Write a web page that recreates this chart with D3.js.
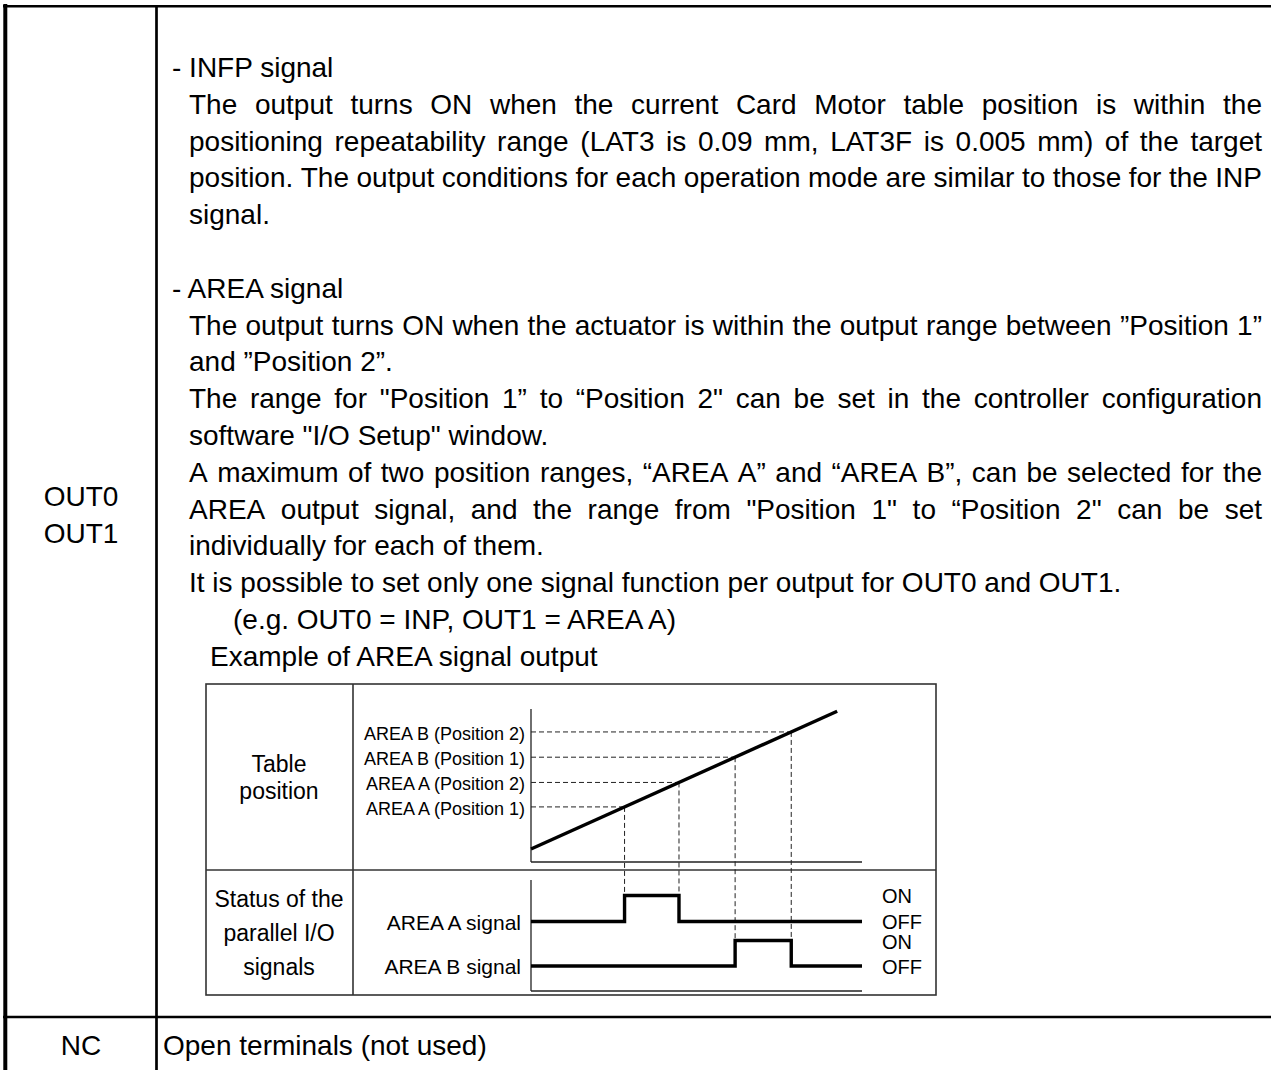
<!DOCTYPE html>
<html><head><meta charset="utf-8">
<script src="https://cdn.jsdelivr.net/npm/d3@7"></script>
<style>body{margin:0;background:#fff} svg{display:block}</style>
</head><body>
<svg id="c" width="1271" height="1070"></svg>
<script>
// ---------- data ----------
const rowLabelsTop = ["OUT0", "OUT1"];
const rowLabelBottom = "NC";
const ncText = "Open terminals (not used)";
const infpLines = [
  {text: "- INFP signal", indent: 0, justify: false},
  {text: "The output turns ON when the current Card Motor table position is within the", indent: 1, justify: true},
  {text: "positioning repeatability range (LAT3 is 0.09 mm, LAT3F is 0.005 mm) of the target", indent: 1, justify: true},
  {text: "position. The output conditions for each operation mode are similar to those for the INP", indent: 1, justify: true},
  {text: "signal.", indent: 1, justify: false}
];
const areaLines = [
  {text: "- AREA signal", indent: 0, justify: false},
  {text: "The output turns ON when the actuator is within the output range between \u201DPosition 1\u201D", indent: 1, justify: true},
  {text: "and \u201DPosition 2\u201D.", indent: 1, justify: false},
  {text: "The range for \"Position 1\u201D to \u201CPosition 2\" can be set in the controller configuration", indent: 1, justify: true},
  {text: "software \"I/O Setup\" window.", indent: 1, justify: false},
  {text: "A maximum of two position ranges, \u201CAREA A\u201D and \u201CAREA B\u201D, can be selected for the", indent: 1, justify: true},
  {text: "AREA output signal, and the range from \"Position 1\" to \u201CPosition 2\" can be set", indent: 1, justify: true},
  {text: "individually for each of them.", indent: 1, justify: false},
  {text: "It is possible to set only one signal function per output for OUT0 and OUT1.", indent: 1, justify: false},
  {text: "(e.g. OUT0 = INP, OUT1 = AREA A)", indent: 3, justify: false},
  {text: "Example of AREA signal output", indent: 2, justify: false}
];
// diagram data
const rowHeaderTop = ["Table", "position"];
const rowHeaderBottom = ["Status of the", "parallel I/O", "signals"];
const levelLabels = ["AREA A (Position 1)", "AREA A (Position 2)", "AREA B (Position 1)", "AREA B (Position 2)"];
const levelValues = [36, 52, 68.5, 85];
const trajectoryTime = [0, 9.25];
const trajectoryPos = [8.5, 98.5];
const signalNames = ["AREA A signal", "AREA B signal"];
const signalLevelPairs = [[0, 1], [2, 3]];
const stateLabels = ["ON", "OFF"];
const timeDomain = [0, 10];
const posDomain = [0, 100];

// ---------- layout ----------
const FONT = "'Liberation Sans', Arial, sans-serif";
const svg = d3.select("#c");
svg.append("rect").attr("width", 1271).attr("height", 1070).attr("fill", "#fff");

const bodySize = 28, lineH = 36.8;
const rightEdge = 1262;
const indentX = [172, 189, 210, 233];

// outer table
const tbl = svg.append("g").attr("stroke", "#000").attr("fill", "none");
tbl.append("line").attr("x1", 5.3).attr("x2", 5.3).attr("y1", 4).attr("y2", 1070).attr("stroke-width", 4);
tbl.append("line").attr("x1", 156.5).attr("x2", 156.5).attr("y1", 5).attr("y2", 1070).attr("stroke-width", 2.7);
tbl.append("line").attr("x1", 3).attr("x2", 1271).attr("y1", 6.2).attr("y2", 6.2).attr("stroke-width", 2.4);
tbl.append("line").attr("x1", 3).attr("x2", 1271).attr("y1", 1017).attr("y2", 1017).attr("stroke-width", 2.4);

const txt = svg.append("g").attr("font-family", FONT).attr("font-size", bodySize).attr("fill", "#000");

// measuring helper
const meas = svg.append("text").attr("font-family", FONT).attr("font-size", bodySize).attr("visibility", "hidden");
function measure(s) { meas.text(s); return meas.node().getComputedTextLength(); }

function drawLine(line, y) {
  const x0 = indentX[line.indent];
  const t = txt.append("text").attr("y", y).attr("x", x0);
  if (!line.justify) { t.text(line.text); return; }
  const words = line.text.split(" ");
  const widths = words.map(measure);
  const gap = (rightEdge - x0 - d3.sum(widths)) / (words.length - 1);
  let x = x0;
  words.forEach((w, i) => { t.append("tspan").attr("x", x).text(w); x += widths[i] + gap; });
}

const infpBase = 77;
infpLines.forEach((l, i) => drawLine(l, infpBase + i * lineH));
const areaBase = infpBase + 6 * lineH;
areaLines.forEach((l, i) => drawLine(l, areaBase + i * lineH));

rowLabelsTop.forEach((s, i) => txt.append("text").attr("x", 81).attr("y", 506 + i * lineH).attr("text-anchor", "middle").text(s));
txt.append("text").attr("x", 81).attr("y", 1055).attr("text-anchor", "middle").text(rowLabelBottom);
txt.append("text").attr("x", 163).attr("y", 1055).text(ncText);

// ---------- inner diagram ----------
const box = {x0: 206, x1: 936, y0: 684, y1: 995, xc: 353, yc: 870};
const dg = svg.append("g");
const bl = dg.append("g").attr("stroke", "#333").attr("stroke-width", 1.6).attr("fill", "none");
bl.append("rect").attr("x", box.x0).attr("y", box.y0).attr("width", box.x1 - box.x0).attr("height", box.y1 - box.y0);
bl.append("line").attr("x1", box.xc).attr("x2", box.xc).attr("y1", box.y0).attr("y2", box.y1);
bl.append("line").attr("x1", box.x0).attr("x2", box.x1).attr("y1", box.yc).attr("y2", box.yc);

const xT = d3.scaleLinear().domain(timeDomain).range([531, 862]);
const yP = d3.scaleLinear().domain(posDomain).range([862, 709]);
const ySig = [
  d3.scaleLinear().domain([0, 1]).range([921.5, 895.5]),
  d3.scaleLinear().domain([0, 1]).range([966, 940.5])
];

// axes (plain lines, no ticks)
const ax = dg.append("g").attr("stroke", "#222").attr("stroke-width", 1.3);
ax.append("line").attr("x1", xT(0)).attr("x2", xT(0)).attr("y1", yP(posDomain[1])).attr("y2", yP(0));
ax.append("line").attr("x1", xT(0)).attr("x2", xT(timeDomain[1])).attr("y1", yP(0)).attr("y2", yP(0));
ax.append("line").attr("x1", xT(0)).attr("x2", xT(0)).attr("y1", 880).attr("y2", 991);
ax.append("line").attr("x1", xT(0)).attr("x2", xT(timeDomain[1])).attr("y1", 991).attr("y2", 991);

const crossT = levelValues.map(v => trajectoryTime[0] + (v - trajectoryPos[0]) / (trajectoryPos[1] - trajectoryPos[0]) * (trajectoryTime[1] - trajectoryTime[0]));

// dashed guides
const dash = dg.append("g").attr("stroke", "#222").attr("stroke-width", 1).attr("stroke-dasharray", "5,3");
levelValues.forEach((v, i) => {
  dash.append("line").attr("x1", xT(0)).attr("x2", xT(crossT[i])).attr("y1", yP(v)).attr("y2", yP(v));
  const s = signalLevelPairs.findIndex(p => p.includes(i));
  dash.append("line").attr("x1", xT(crossT[i])).attr("x2", xT(crossT[i])).attr("y1", yP(v)).attr("y2", ySig[s](1));
});

// trajectory
const lineGen = d3.line().x(d => xT(d[0])).y(d => yP(d[1]));
dg.append("path").attr("d", lineGen(d3.zip(trajectoryTime, trajectoryPos)))
  .attr("fill", "none").attr("stroke", "#000").attr("stroke-width", 3.4);

// signals
signalLevelPairs.forEach((p, s) => {
  const pts = [[timeDomain[0], 0], [crossT[p[0]], 1], [crossT[p[1]], 0], [timeDomain[1], 0]];
  const g = d3.line().x(d => xT(d[0])).y(d => ySig[s](d[1])).curve(d3.curveStepAfter);
  dg.append("path").attr("d", g(pts)).attr("fill", "none").attr("stroke", "#000").attr("stroke-width", 3.4);
});

// diagram text
const dt = dg.append("g").attr("font-family", FONT).attr("fill", "#000");
rowHeaderTop.forEach((s, i) => dt.append("text").attr("x", 279).attr("y", 772 + i * 27).attr("font-size", 23).attr("text-anchor", "middle").text(s));
rowHeaderBottom.forEach((s, i) => dt.append("text").attr("x", 279).attr("y", 907 + i * 34).attr("font-size", 23).attr("text-anchor", "middle").text(s));
levelLabels.forEach((s, i) => dt.append("text").attr("x", 525).attr("y", yP(levelValues[i]) + 8).attr("font-size", 18).attr("text-anchor", "end").text(s));
signalNames.forEach((s, i) => dt.append("text").attr("x", 521).attr("y", ySig[i](0) + 8).attr("font-size", 21).attr("text-anchor", "end").text(s));
ySig.forEach((sc, i) => {
  dt.append("text").attr("x", 882).attr("y", sc(1) + 7.5 + (i ? 1 : 0)).attr("font-size", 20).text(stateLabels[0]);
  dt.append("text").attr("x", 882).attr("y", sc(0) + 8 - (i ? 0 : 1)).attr("font-size", 20).text(stateLabels[1]);
});
meas.remove();
</script>
</body></html>
